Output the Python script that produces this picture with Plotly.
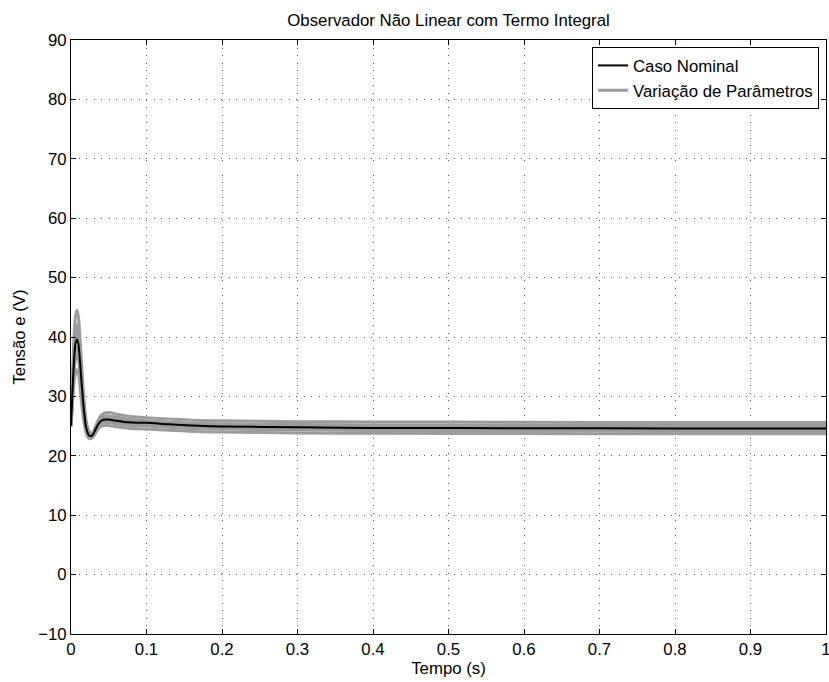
import plotly.graph_objects as go

# time samples (s)
t = [0, 0.002, 0.004, 0.006, 0.008, 0.010, 0.012, 0.014, 0.017, 0.020, 0.024, 0.028, 0.032, 0.036,
     0.040, 0.045, 0.050, 0.055, 0.060, 0.070, 0.080, 0.100, 0.130, 0.160, 0.200, 0.300, 0.400,
     0.600, 0.800, 1.0]

# nominal case (V)
nominal = [25.0, 31.0, 36.0, 38.9, 39.6, 38.6, 35.8, 32.3, 27.8, 24.8, 23.4, 23.4, 24.3, 25.3,
           25.9, 26.1, 26.1, 26.0, 25.9, 25.7, 25.6, 25.55, 25.3, 25.1, 24.95, 24.8, 24.7,
           24.65, 24.6, 24.6]

# parameter variation cases (V)
var_a = [25.0, 33.0, 40.0, 43.6, 44.5, 43.2, 39.8, 35.5, 29.8, 26.0, 24.1, 23.8, 24.8, 26.0,
         26.8, 27.2, 27.3, 27.2, 27.0, 26.8, 26.6, 26.4, 26.2, 26.0, 25.9, 25.75, 25.7, 25.65, 25.6, 25.6]
var_b = [25.0, 32.0, 38.0, 41.2, 42.0, 40.9, 37.8, 34.0, 28.8, 25.4, 23.8, 23.6, 24.6, 25.7,
         26.4, 26.7, 26.7, 26.6, 26.5, 26.3, 26.1, 25.9, 25.7, 25.5, 25.4, 25.25, 25.2, 25.15, 25.1, 25.1]
var_c = [25.0, 30.0, 34.2, 36.4, 37.0, 36.1, 33.7, 30.6, 26.8, 24.3, 23.1, 23.2, 24.0, 24.9,
         25.4, 25.6, 25.6, 25.5, 25.4, 25.2, 25.1, 25.0, 24.8, 24.6, 24.5, 24.35, 24.25, 24.2, 24.15, 24.15]
var_d = [25.0, 29.0, 32.4, 34.0, 34.5, 33.7, 31.6, 28.9, 25.8, 23.8, 22.9, 23.0, 23.7, 24.5,
         25.0, 25.1, 25.1, 25.0, 24.9, 24.7, 24.6, 24.5, 24.3, 24.1, 24.0, 23.85, 23.8, 23.75, 23.7, 23.7]
var_e = [25.0, 31.6, 37.0, 40.0, 40.8, 39.8, 36.9, 33.2, 28.4, 25.1, 23.6, 23.5, 24.4, 25.5,
         26.1, 26.4, 26.4, 26.3, 26.2, 26.0, 25.8, 25.7, 25.5, 25.3, 25.2, 25.0, 24.95, 24.9, 24.85, 24.85]
var_f = [25.0, 30.5, 35.0, 37.6, 38.3, 37.4, 34.8, 31.4, 27.3, 24.5, 23.2, 23.3, 24.1, 25.1,
         25.6, 25.8, 25.8, 25.7, 25.6, 25.4, 25.3, 25.2, 25.0, 24.8, 24.7, 24.55, 24.5, 24.45, 24.4, 24.4]

variations = [var_a, var_b, var_c, var_d, var_e, var_f]

x_ticks = [0, 0.1, 0.2, 0.3, 0.4, 0.5, 0.6, 0.7, 0.8, 0.9, 1]
x_labels = ["0", "0.1", "0.2", "0.3", "0.4", "0.5", "0.6", "0.7", "0.8", "0.9", "1"]
y_ticks = [-10, 0, 10, 20, 30, 40, 50, 60, 70, 80, 90]
y_labels = ["\u221210", "0", "10", "20", "30", "40", "50", "60", "70", "80", "90"]

FONT = "Liberation Sans, Arial, Helvetica, sans-serif"
FS = 16.8
GRAY = "#9c9c9c"

fig = go.Figure()
for i, v in enumerate(variations):
    fig.add_trace(go.Scatter(
        x=t, y=v, mode="lines", name="Variação de Parâmetros",
        line=dict(color=GRAY, width=3, shape="spline", smoothing=0.8),
        legendgroup="var", showlegend=(i == 0), legendrank=2, hoverinfo="skip"))

fig.add_trace(go.Scatter(
    x=t, y=nominal, mode="lines", name="Caso Nominal",
    line=dict(color="black", width=2, shape="spline", smoothing=0.8),
    legendrank=1))

axis_common = dict(
    showline=True, linecolor="black", linewidth=1, mirror="ticks",
    ticks="inside", ticklen=5, tickcolor="black", automargin=False,
    showgrid=True, gridcolor="#555555", griddash="1px,6.5px", gridwidth=1,
    zeroline=False, tickfont=dict(family=FONT, size=FS, color="black"),
    ticklabeloverflow="allow",
)

fig.update_layout(
    width=829, height=682,
    margin=dict(l=71, r=3, t=40, b=48, autoexpand=False),
    paper_bgcolor="white", plot_bgcolor="white",
    font=dict(family=FONT, size=FS, color="black"),
    title=dict(text="Observador Não Linear com Termo Integral", x=(71 + 826) / 2 / 829, xanchor="center",
               y=1 - 20.5 / 682, yanchor="middle", font=dict(family=FONT, size=FS, color="black")),
    xaxis=dict(range=[0, 1], tickvals=x_ticks, ticktext=x_labels,
               title=dict(text="Tempo (s)", standoff=2, font=dict(family=FONT, size=FS)),
               **axis_common),
    yaxis=dict(range=[-10, 90], tickvals=y_ticks, ticktext=y_labels,
               title=dict(text="Tensão e (V)", standoff=8, font=dict(family=FONT, size=FS)),
               **axis_common),
    legend=dict(x=(819 - 71) / 755, y=1 - (47 - 40) / 594, xanchor="right", yanchor="top",
                bgcolor="white", bordercolor="black", borderwidth=1,
                font=dict(family=FONT, size=FS, color="black"),
                tracegroupgap=0, itemwidth=30),
    showlegend=True,
)

fig.write_html("out.html", post_script="document.body.style.margin='0';",
               config={"displayModeBar": False})
